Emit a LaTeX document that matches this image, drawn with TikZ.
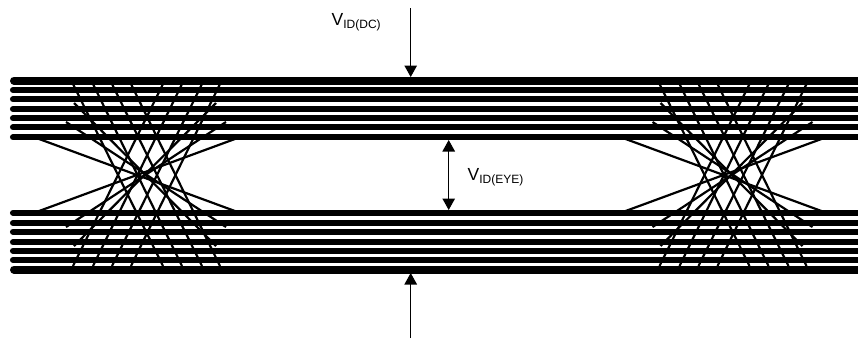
\documentclass[tikz,border=0pt]{standalone}
\usepackage{fontspec}
\setmainfont{Liberation Sans}
\usetikzlibrary{arrows.meta}
\usetikzlibrary{positioning}
\tikzset{x=1pt, y=-1pt, >={Triangle[length=11.5pt,width=12.5pt]}}
\tikzstyle{rail} = [line width=6.1pt, line cap=round]
\tikzstyle{railthick} = [line width=8pt, line cap=round]
\tikzstyle{trace} = [line width=2.2pt]
\tikzstyle{dim} = [line width=1.2pt]
\tikzstyle{vlabel} = [inner sep=0pt, font=\fontsize{17.5}{17.5}\selectfont]
\newcommand{\vsub}[1]{V\raisebox{-3.5pt}{\fontsize{12}{12}\selectfont #1}}

\begin{document}
\begin{tikzpicture}
    \useasboundingbox (0,0) rectangle (858,338);

    % levels
    \foreach \y in {90,99.3,109,118.3,127.3,137.3,212.7,223,231.7,242.3,250.7,260}
        \draw [rail] (13,\y) -- (870,\y);
    \foreach \y in {80.5,269.5}
        \draw [railthick] (14,\y) -- (870,\y);

    % crossings
    \foreach \dx in {0,586.5} {
        \begin{scope}[xshift=\dx pt]
            \foreach \a/\b in {73/163,93/182,112/202,131/220} {
                \draw [trace] (\a,84) -- (\b,266);
                \draw [trace] (\b,84) -- (\a,266);
            }
            \draw [trace] (34.5,137.3) -- (239.5,212.7);
            \draw [trace] (34.5,212.7) -- (239.5,137.3);
            \draw [trace] (66,122) -- (226,227);
            \draw [trace] (66,227) -- (226,122);
            \draw [trace] (74,103) -- (216,246);
            \draw [trace] (74,246) -- (216,103);
        \end{scope}
    }

    % dimensions
    \coordinate (dc_top) at (410.7,8);
    \coordinate (dc_topend) at (410.7,77);
    \coordinate (dc_bot) at (410.7,338);
    \coordinate (dc_botend) at (410.7,273);
    \coordinate (eye_top) at (448.7,140);
    \coordinate (eye_bot) at (448.7,210);
    \draw [dim,->] (dc_top) -- (dc_topend);
    \draw [dim,->] (dc_bot) -- (dc_botend);
    \draw [dim,<->] (eye_top) -- (eye_bot);

    \node [vlabel, anchor=base west] (v_dc) at (331.5,25) {\vsub{ID(DC)}};
    \node [vlabel, anchor=base west] (v_eye) at (467.5,180) {\vsub{ID(EYE)}};
\end{tikzpicture}
\end{document}
